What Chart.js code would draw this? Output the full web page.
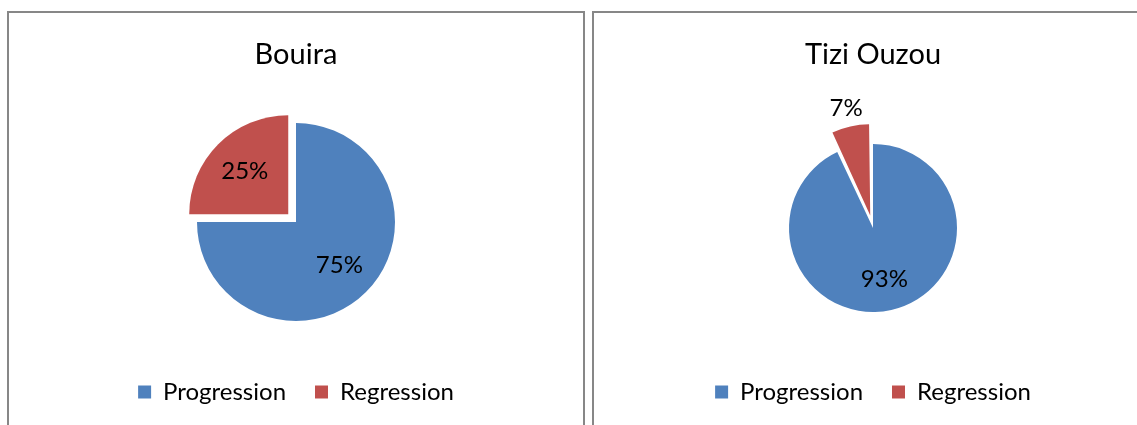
<!DOCTYPE html>
<html>
<head>
<meta charset="utf-8">
<script src="https://cdn.jsdelivr.net/npm/chart.js@4"></script>
<style>
    html, body { margin: 0; padding: 0; overflow: hidden; background: #fff; width: 1137px; height: 425px; }
    .panel { position: absolute; top: 11px; height: 460px; border: 2px solid #878787; box-sizing: border-box; background: #fff; }
    .holder { position: relative; height: 412px; }
    #panelLeft { left: 7px; width: 578px; }
    #panelRight { left: 592px; width: 562px; }
</style>
</head>
<body>
<div class="panel" id="panelLeft"><div class="holder"><canvas id="bouiraChart"></canvas></div></div>
<div class="panel" id="panelRight"><div class="holder"><canvas id="tiziChart"></canvas></div></div>
<script>
// Chart data
const categories = ['Progression', 'Regression'];
const bouiraValues = [75, 25];
const tiziValues = [93, 7];
const chartTitles = ['Bouira', 'Tizi Ouzou'];
const sliceColors = ['#4F81BD', '#C0504D'];

const FONT = 'Lato, "Open Sans", sans-serif';

// Chart.js moves an arc by offset/4 * (2 - sin(angle)), so turn wanted pixels into the option value
function offsetFactor(share) {
    const circ = share * 2 * Math.PI;
    return (2 - Math.sin(Math.min(Math.PI, circ))) / 4;
}

// Draw percentage labels on the slices (no datalabels plugin available)
const pctLabels = {
    id: 'pctLabels',
    afterDatasetsDraw(chart, args, opts) {
        const ctx = chart.ctx;
        const values = chart.data.datasets[0].data;
        const total = values.reduce((a, b) => a + b, 0);
        ctx.save();
        ctx.font = opts.size + 'px ' + FONT;
        ctx.fillStyle = '#000';
        ctx.textAlign = 'center';
        ctx.textBaseline = 'middle';
        chart.getDatasetMeta(0).data.forEach((arc, i) => {
            const p = arc.getProps(['x', 'y', 'startAngle', 'endAngle', 'outerRadius'], true);
            const share = values[i] / total;
            const mid = (p.startAngle + p.endAngle) / 2;
            const off = (arc.options.offset || 0) * offsetFactor(share);
            let dist;
            if (share < opts.outsideBelow) {
                dist = off + p.outerRadius + opts.outsideGap;
            } else {
                dist = off + p.outerRadius * opts.inside;
            }
            const text = Math.round(share * 100) + '%';
            ctx.fillText(text, p.x + Math.cos(mid) * dist, p.y + Math.sin(mid) * dist);
        });
        ctx.restore();
    }
};

function makePie(canvasId, title, values, radius, explodePx, titleBottom) {
    const ctx = document.getElementById(canvasId);
    if (!ctx) return null;

    const total = values.reduce((a, b) => a + b, 0);
    const offsets = values.map((v, i) => explodePx[i] / offsetFactor(v / total));

    return new Chart(ctx, {
        type: 'pie',
        data: {
            labels: categories,
            datasets: [{
                data: values,
                backgroundColor: sliceColors,
                borderWidth: 0,
                radius: radius,
                offset: offsets
            }]
        },
        options: {
            responsive: true,
            maintainAspectRatio: false,
            animation: false,
            layout: {
                padding: { bottom: 11 }
            },
            plugins: {
                title: {
                    display: true,
                    text: title,
                    color: '#000',
                    font: { family: FONT, size: 29, weight: 'normal' },
                    padding: { top: 24.6, bottom: titleBottom }
                },
                legend: {
                    position: 'bottom',
                    labels: {
                        color: '#000',
                        font: { family: FONT, size: 24 },
                        boxWidth: 13,
                        boxHeight: 13,
                        padding: 29
                    }
                },
                tooltip: { enabled: false },
                pctLabels: {
                    size: 24,
                    inside: 0.62,
                    outsideBelow: 0.1,
                    outsideGap: 19
                }
            }
        },
        plugins: [pctLabels]
    });
}

makePie('bouiraChart', chartTitles[0], bouiraValues, 99, [0, 11], 20.6);
makePie('tiziChart', chartTitles[1], tiziValues, 84, [0, 20], 32.6);
</script>
</body>
</html>
